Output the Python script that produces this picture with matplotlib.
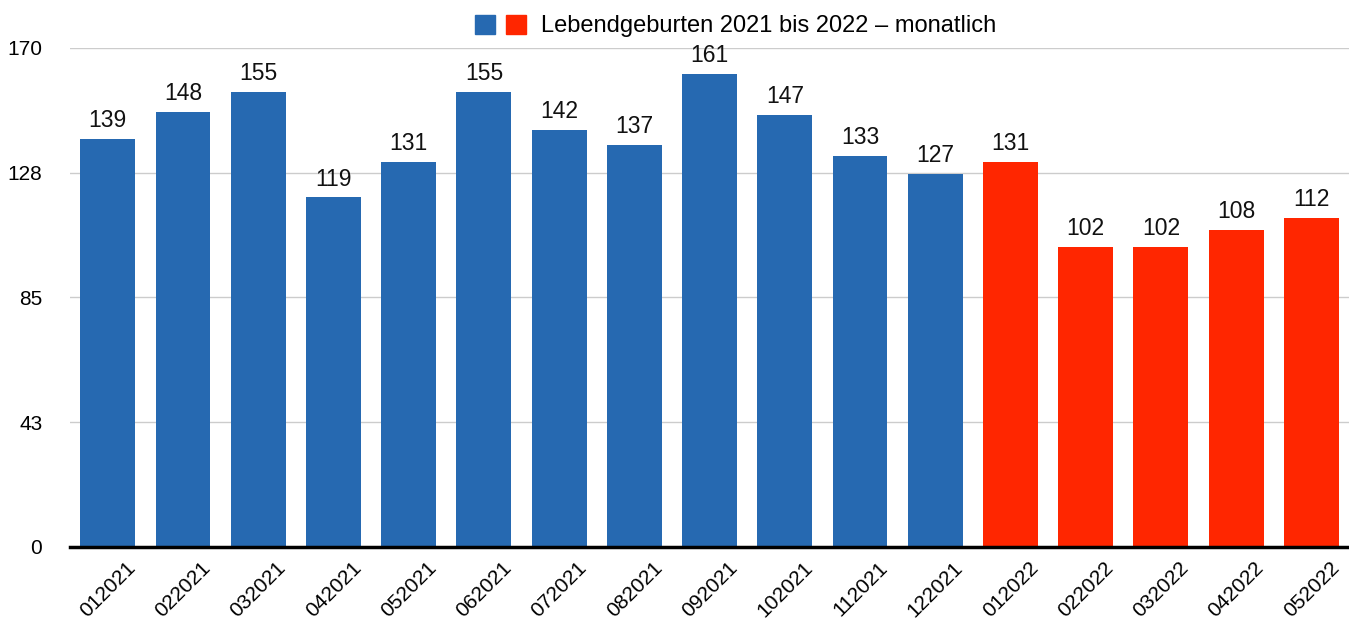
import matplotlib.pyplot as plt
import matplotlib.transforms as mtransforms
from matplotlib.patches import Patch
from matplotlib.legend_handler import HandlerTuple

plt.rcParams['font.family'] = ['Liberation Sans', 'DejaVu Sans']

months = ["012021", "022021", "032021", "042021", "052021", "062021",
          "072021", "082021", "092021", "102021", "112021", "122021",
          "012022", "022022", "032022", "042022", "052022"]
births = [139, 148, 155, 119, 131, 155, 142, 137, 161, 147, 133, 127,
          131, 102, 102, 108, 112]
years = ["2021"] * 12 + ["2022"] * 5

y_ticks = [0, 42.5, 85, 127.5, 170]
y_labels = ["0", "43", "85", "128", "170"]

blue = "#2669b1"
red = "#ff2600"
colors = [blue if y == "2021" else red for y in years]

fig = plt.figure(figsize=(13.49, 6.2), dpi=100)
ax = fig.add_axes([0.052, 0.118, 0.948, 0.805])

x = range(len(months))
ax.bar(x, births, width=0.73, color=colors, zorder=2)
for xi, v in zip(x, births):
    ax.annotate(str(v), (xi, v), xytext=(0, 5), textcoords="offset points",
                ha="center", va="bottom", fontsize=16.5, color="#111111")

ax.set_xlim(-0.5, len(months) - 0.5)
ax.set_ylim(0, 170)
ax.set_yticks(y_ticks)
ax.set_yticklabels(y_labels, fontsize=15)
ax.set_xticks(list(x))
ax.set_xticklabels(months, fontsize=15, rotation=45, ha="right",
                   rotation_mode="anchor")
ax.tick_params(axis="both", length=0)
ax.tick_params(axis="y", pad=20)
ax.tick_params(axis="x", pad=8)

# shift rotated month labels to the right, like the original
shift = mtransforms.ScaledTranslation(0.18, 0, fig.dpi_scale_trans)
for lbl in ax.get_xticklabels():
    lbl.set_transform(lbl.get_transform() + shift)

ax.grid(axis="y", color="#cccccc", linewidth=1, zorder=0)
for s in ["top", "right", "left"]:
    ax.spines[s].set_visible(False)
ax.spines["bottom"].set_linewidth(2.5)
ax.spines["bottom"].set_color("black")
ax.spines["bottom"].set_zorder(3)

handles = [(Patch(color=blue), Patch(color=red))]
fig.legend(handles, ["Lebendgeburten 2021 bis 2022 – monatlich"],
           handler_map={tuple: HandlerTuple(ndivide=None, pad=0.5)},
           loc="center", bbox_to_anchor=(0.545, 0.958), frameon=False,
           fontsize=17, handlelength=2.2, handleheight=0.85,
           handletextpad=0.6, borderpad=0)

fig.savefig("out.png", dpi=100)
